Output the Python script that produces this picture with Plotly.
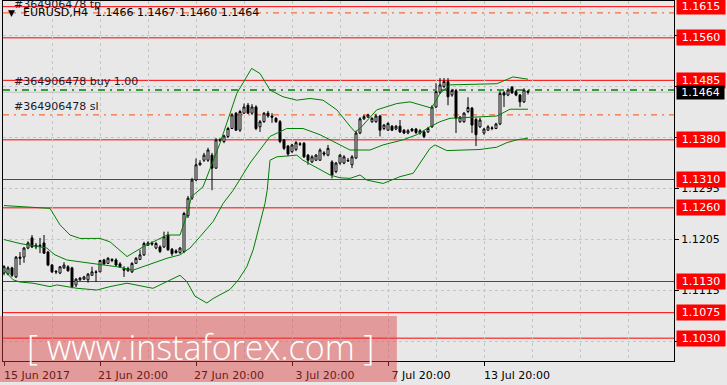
import plotly.graph_objects as go

# ---------------- data ----------------
bar_index = list(range(132))

open_ = [
    1.1145, 1.1143, 1.1154, 1.1138, 1.1173, 1.1173, 1.1189, 1.1207, 1.1191, 1.1192,
    1.1198, 1.1182, 1.1159, 1.1148, 1.1145, 1.1154, 1.1156, 1.1154, 1.1124, 1.1133,
    1.1134, 1.1133, 1.1141, 1.1147, 1.1147, 1.1168, 1.1162, 1.1169, 1.1168, 1.1161,
    1.1153, 1.1149, 1.1147, 1.1162, 1.1169, 1.1177, 1.1194, 1.1198, 1.1189, 1.1191,
    1.1191, 1.1212, 1.1187, 1.1184, 1.1181, 1.1183, 1.1246, 1.1277, 1.1309, 1.1336,
    1.1344, 1.1344, 1.1353, 1.1330, 1.1380, 1.1377, 1.1386, 1.1400, 1.1427, 1.1397,
    1.1427, 1.1441, 1.1427, 1.1438, 1.1403, 1.1412, 1.1427, 1.1422, 1.1418, 1.1412,
    1.1380, 1.1369, 1.1359, 1.1363, 1.1373, 1.1374, 1.1353, 1.1341, 1.1344, 1.1344,
    1.1357, 1.1353, 1.1341, 1.1324, 1.1339, 1.1339, 1.1344, 1.1336, 1.1348, 1.1392,
    1.1417, 1.1420, 1.1412, 1.1412, 1.1422, 1.1400, 1.1397, 1.1404, 1.1399, 1.1404,
    1.1397, 1.1392, 1.1399, 1.1399, 1.1392, 1.1394, 1.1394, 1.1403, 1.1438, 1.1464,
    1.1474, 1.1483, 1.1459, 1.1467, 1.1412, 1.1412, 1.1430, 1.1436, 1.1416, 1.1403,
    1.1392, 1.1397, 1.1400, 1.1400, 1.1408, 1.1463, 1.1459, 1.1473, 1.1465, 1.1459,
    1.1447, 1.1466]

high = [
    1.1159, 1.1157, 1.1156, 1.1175, 1.1182, 1.1191, 1.1201, 1.1212, 1.1198, 1.1207,
    1.1212, 1.1184, 1.1161, 1.1150, 1.1157, 1.1164, 1.1159, 1.1156, 1.1136, 1.1138,
    1.1140, 1.1145, 1.1156, 1.1150, 1.1168, 1.1170, 1.1173, 1.1171, 1.1171, 1.1164,
    1.1157, 1.1156, 1.1164, 1.1173, 1.1186, 1.1200, 1.1201, 1.1201, 1.1200, 1.1194,
    1.1218, 1.1218, 1.1189, 1.1187, 1.1191, 1.1253, 1.1281, 1.1313, 1.1347, 1.1344,
    1.1357, 1.1366, 1.1357, 1.1383, 1.1383, 1.1389, 1.1403, 1.1427, 1.1429, 1.1433,
    1.1444, 1.1445, 1.1443, 1.1441, 1.1415, 1.1429, 1.1431, 1.1427, 1.1420, 1.1415,
    1.1381, 1.1371, 1.1373, 1.1378, 1.1376, 1.1376, 1.1355, 1.1353, 1.1355, 1.1365,
    1.1360, 1.1371, 1.1344, 1.1341, 1.1355, 1.1353, 1.1348, 1.1353, 1.1396, 1.1420,
    1.1424, 1.1426, 1.1420, 1.1426, 1.1424, 1.1408, 1.1411, 1.1406, 1.1406, 1.1415,
    1.1399, 1.1399, 1.1401, 1.1401, 1.1399, 1.1397, 1.1403, 1.1441, 1.1480, 1.1489,
    1.1489, 1.1489, 1.1470, 1.1470, 1.1422, 1.1429, 1.1455, 1.1438, 1.1419, 1.1419,
    1.1401, 1.1406, 1.1404, 1.1410, 1.1466, 1.1466, 1.1471, 1.1475, 1.1468, 1.1461,
    1.1471, 1.1467]

low = [
    1.1141, 1.1141, 1.1138, 1.1136, 1.1159, 1.1163, 1.1187, 1.1189, 1.1187, 1.1180,
    1.1179, 1.1157, 1.1145, 1.1143, 1.1143, 1.1152, 1.1147, 1.1118, 1.1120, 1.1131,
    1.1133, 1.1128, 1.1140, 1.1129, 1.1147, 1.1159, 1.1161, 1.1164, 1.1157, 1.1154,
    1.1138, 1.1147, 1.1145, 1.1161, 1.1168, 1.1175, 1.1193, 1.1193, 1.1187, 1.1180,
    1.1189, 1.1184, 1.1175, 1.1179, 1.1179, 1.1180, 1.1242, 1.1274, 1.1307, 1.1334,
    1.1341, 1.1341, 1.1291, 1.1329, 1.1376, 1.1374, 1.1383, 1.1399, 1.1396, 1.1394,
    1.1426, 1.1426, 1.1424, 1.1397, 1.1394, 1.1410, 1.1419, 1.1410, 1.1410, 1.1374,
    1.1362, 1.1351, 1.1357, 1.1360, 1.1369, 1.1348, 1.1336, 1.1339, 1.1343, 1.1343,
    1.1351, 1.1351, 1.1312, 1.1321, 1.1336, 1.1337, 1.1341, 1.1330, 1.1346, 1.1390,
    1.1415, 1.1419, 1.1410, 1.1410, 1.1386, 1.1397, 1.1396, 1.1396, 1.1397, 1.1392,
    1.1390, 1.1390, 1.1394, 1.1390, 1.1389, 1.1383, 1.1392, 1.1401, 1.1436, 1.1461,
    1.1471, 1.1441, 1.1456, 1.1392, 1.1410, 1.1410, 1.1427, 1.1392, 1.1369, 1.1401,
    1.1389, 1.1396, 1.1397, 1.1399, 1.1406, 1.1438, 1.1457, 1.1461, 1.1457, 1.1438,
    1.1445, 1.1460]

close = [
    1.1156, 1.1154, 1.1141, 1.1173, 1.1171, 1.1189, 1.1198, 1.1191, 1.1194, 1.1194,
    1.1180, 1.1159, 1.1147, 1.1147, 1.1156, 1.1159, 1.1149, 1.1121, 1.1134, 1.1136,
    1.1138, 1.1143, 1.1147, 1.1146, 1.1167, 1.1161, 1.1171, 1.1167, 1.1159, 1.1156,
    1.1150, 1.1153, 1.1162, 1.1171, 1.1177, 1.1197, 1.1198, 1.1196, 1.1197, 1.1183,
    1.1209, 1.1186, 1.1179, 1.1181, 1.1189, 1.1250, 1.1277, 1.1309, 1.1336, 1.1339,
    1.1353, 1.1362, 1.1330, 1.1380, 1.1379, 1.1387, 1.1400, 1.1424, 1.1397, 1.1430,
    1.1438, 1.1427, 1.1438, 1.1400, 1.1412, 1.1427, 1.1422, 1.1420, 1.1412, 1.1377,
    1.1365, 1.1355, 1.1371, 1.1375, 1.1372, 1.1350, 1.1344, 1.1350, 1.1353, 1.1362,
    1.1355, 1.1365, 1.1318, 1.1339, 1.1353, 1.1350, 1.1343, 1.1350, 1.1392, 1.1417,
    1.1421, 1.1424, 1.1418, 1.1422, 1.1397, 1.1406, 1.1409, 1.1397, 1.1404, 1.1394,
    1.1392, 1.1396, 1.1396, 1.1393, 1.1396, 1.1386, 1.1400, 1.1438, 1.1465, 1.1477,
    1.1483, 1.1456, 1.1467, 1.1418, 1.1420, 1.1427, 1.1437, 1.1406, 1.1389, 1.1415,
    1.1399, 1.1403, 1.1401, 1.1408, 1.1462, 1.1459, 1.1468, 1.1463, 1.1459, 1.1447,
    1.1468, 1.1464]

# Bollinger bands, read at sampled bar positions
upper_idx = [0, 11.5, 14, 16.5, 19, 24, 26.5, 30.75, 34.75, 40.75, 44, 45.7, 46.9,
             49.75, 54, 58.2, 61.9, 64, 66.5, 69.75, 73.2, 76.5, 79.75, 83.2, 86.5,
             87.75, 89, 93.2, 98.2, 101.5, 106.9, 109, 111.5, 123.2, 127.25, 131]
upper_val = [1.1264, 1.1259, 1.1230, 1.1212, 1.1206, 1.1206, 1.1200, 1.1174, 1.1191,
             1.1212, 1.1212, 1.1247, 1.1280, 1.1297, 1.1374, 1.1462, 1.1506, 1.1497,
             1.1468, 1.1456, 1.1450, 1.1453, 1.1450, 1.1433, 1.1404, 1.1394, 1.1400,
             1.1433, 1.1444, 1.1447, 1.1436, 1.1462, 1.1477, 1.1479, 1.1491, 1.1487]

mid_idx = [0, 4, 7.25, 10.7, 12.75, 15.7, 19.75, 24, 28.25, 32.25, 35.75, 40.75, 44,
           46.5, 49, 52.3, 54.8, 57.3, 61.5, 66.5, 70.7, 74.75, 79, 83.2, 86.5, 91.5,
           94.75, 99.75, 103.2, 106.5, 109, 111.5, 123.2, 126.5, 131]
mid_val = [1.1204, 1.1197, 1.1193, 1.1189, 1.1177, 1.1168, 1.1164, 1.1160, 1.1156,
           1.1150, 1.1159, 1.1171, 1.1177, 1.1189, 1.1209, 1.1236, 1.1268, 1.1291,
           1.1339, 1.1386, 1.1400, 1.1400, 1.1389, 1.1374, 1.1362, 1.1362, 1.1371,
           1.1380, 1.1389, 1.1403, 1.1412, 1.1418, 1.1422, 1.1434, 1.1434]

lower_idx = [0, 2.3, 4, 7.25, 11.5, 13.2, 18.25, 23.25, 26.5, 30.75, 37.25, 44, 45.7,
             47.75, 50.7, 52.3, 56.5, 58.6, 60.7, 62.3, 64, 65.25, 65.8, 66.5, 68.2,
             73.2, 74.75, 81.5, 84, 86.5, 89, 90.7, 94.8, 99, 102.3, 106.5, 107.75,
             110.7, 119, 123.2, 125.7, 128.2, 131]
lower_val = [1.1150, 1.1133, 1.1129, 1.1127, 1.1121, 1.1124, 1.1118, 1.1115, 1.1121,
             1.1127, 1.1118, 1.1141, 1.1130, 1.1104, 1.1092, 1.1100, 1.1116, 1.1133,
             1.1156, 1.1186, 1.1233, 1.1268, 1.1291, 1.1344, 1.1350, 1.1353, 1.1344,
             1.1318, 1.1313, 1.1312, 1.1318, 1.1309, 1.1303, 1.1315, 1.1321, 1.1365,
             1.1371, 1.1361, 1.1363, 1.1367, 1.1375, 1.1380, 1.1383]

red_levels = [1.1615, 1.1560, 1.1485, 1.1380, 1.1310, 1.1260, 1.1130, 1.1075, 1.1030]
buy_price = 1.1468
sl_price = 1.1424
tp_price = 1.1604
current_price = 1.1464
order_id = "#364906478"
header_text = "EURUSD,H4  1.1466 1.1467 1.1460 1.1464"

ytick_vals = [1.1025, 1.1115, 1.1205, 1.1295, 1.1385, 1.1475, 1.1565]
xtick_idx = [0, 24, 48, 72, 96, 120]
xtick_text = ["15 Jun 2017", "21 Jun 20:00", "27 Jun 20:00", "3 Jul 20:00",
              "7 Jul 20:00", "13 Jul 20:00"]
xgrid_idx = [12, 24, 36, 48, 60, 72, 84, 96, 108, 120, 132, 144, 156]

# ---------------- figure ----------------
FONT = "DejaVu Sans"
BG = "#E8E8E8"
GREEN = "#008000"

fig = go.Figure()

fig.add_trace(go.Candlestick(
    x=bar_index, open=open_, high=high, low=low, close=close,
    increasing=dict(line=dict(color="black", width=1), fillcolor="white"),
    decreasing=dict(line=dict(color="black", width=1), fillcolor="black"),
    whiskerwidth=0, hoverinfo="skip", showlegend=False))

for xs, ys in [(upper_idx, upper_val), (mid_idx, mid_val), (lower_idx, lower_val)]:
    fig.add_trace(go.Scatter(x=xs, y=ys, mode="lines",
                             line=dict(color=GREEN, width=1),
                             hoverinfo="skip", showlegend=False))

shapes = []
for lv in red_levels:
    shapes.append(dict(type="line", xref="paper", x0=0, x1=1, yref="y", y0=lv, y1=lv,
                       line=dict(color="#FF0000", width=1), layer="between"))
shapes.append(dict(type="line", xref="paper", x0=0, x1=1, yref="y",
                   y0=current_price, y1=current_price,
                   line=dict(color="#C0C0C0", width=1), layer="between"))
shapes.append(dict(type="line", xref="paper", x0=0, x1=1, yref="y",
                   y0=buy_price, y1=buy_price,
                   line=dict(color=GREEN, width=1.5, dash="7px,5px,2px,5px"),
                   layer="between"))
for lv in (tp_price, sl_price):
    shapes.append(dict(type="line", xref="paper", x0=0, x1=1, yref="y", y0=lv, y1=lv,
                       line=dict(color="#FF4A10", width=1, dash="6px,5px,2px,5px"),
                       layer="between"))
# watermark band
shapes.append(dict(type="rect", xref="paper", yref="paper",
                   x0=-0.0045, x1=0.587, y0=-0.058, y1=0.125,
                   fillcolor="rgba(222,60,60,0.45)", line=dict(width=0),
                   layer="above"))

annotations = []
for lv in red_levels:
    annotations.append(dict(xref="paper", x=1, xanchor="left", xshift=2,
                            yref="y", y=lv, yanchor="middle",
                            text=f"{lv:.4f}", showarrow=False,
                            bgcolor="#FF0000", borderpad=1, width=46,
                            font=dict(family=FONT, size=11, color="white")))
annotations.append(dict(xref="paper", x=1, xanchor="left", xshift=2,
                        yref="y", y=current_price, yanchor="middle",
                        text=f"{current_price:.4f}", showarrow=False,
                        bgcolor="black", borderpad=0, width=47,
                        font=dict(family=FONT, size=11, color="white")))
for lv, label in [(tp_price, "tp"), (buy_price, "buy 1.00"), (sl_price, "sl")]:
    annotations.append(dict(xref="paper", x=0.0134, xanchor="left",
                            yref="y", y=lv, yanchor="bottom", yshift=0,
                            text=f"{order_id} {label}", showarrow=False,
                            font=dict(family=FONT, size=11, color="#1a1a2a")))
annotations.append(dict(xref="paper", x=0.005, xanchor="left",
                        yref="paper", y=0.968, yanchor="middle",
                        text="\u25bc", showarrow=False,
                        font=dict(family=FONT, size=9, color="black")))
annotations.append(dict(xref="paper", x=0.027, xanchor="left",
                        yref="paper", y=0.968, yanchor="middle",
                        text=header_text, showarrow=False,
                        font=dict(family=FONT, size=11, color="black")))
annotations.append(dict(xref="paper", x=0.294, xanchor="center",
                        yref="paper", y=0.038, yanchor="middle",
                        text="[ www.instaforex.com ]", showarrow=False,
                        font=dict(family="Open Sans", size=34, color="white",
                                  weight=300)))

fig.update_layout(
    width=727, height=385,
    margin=dict(l=3, r=53, t=1, b=24),
    paper_bgcolor=BG, plot_bgcolor=BG,
    shapes=shapes, annotations=annotations,
    showlegend=False,
    font=dict(family=FONT, size=11, color="black"),
    xaxis=dict(
        range=[-0.25, 167.5], rangeslider=dict(visible=False),
        showline=True, linecolor="black", linewidth=1, mirror=True,
        tickvals=xtick_idx, ticktext=xtick_text, ticks="outside", ticklen=4,
        tickcolor="black", showgrid=False, zeroline=False,
        ticklabelshift=33,
        tickfont=dict(family=FONT, size=11, color="black"),
        minor=dict(tickvals=xgrid_idx, showgrid=True, gridcolor="#C6C6C6",
                   griddash="3px,3px", gridwidth=1, ticks=""),
    ),
    yaxis=dict(
        range=[1.09897, 1.16250], side="right",
        showline=True, linecolor="black", linewidth=1, mirror=True,
        tickvals=ytick_vals, tickformat=".4f", ticks="outside", ticklen=4,
        tickcolor="black", showgrid=True, gridcolor="#C6C6C6",
        griddash="3px,3px", zeroline=False,
        tickfont=dict(family=FONT, size=11, color="black"),
    ),
)

fig.write_html("out.html")
